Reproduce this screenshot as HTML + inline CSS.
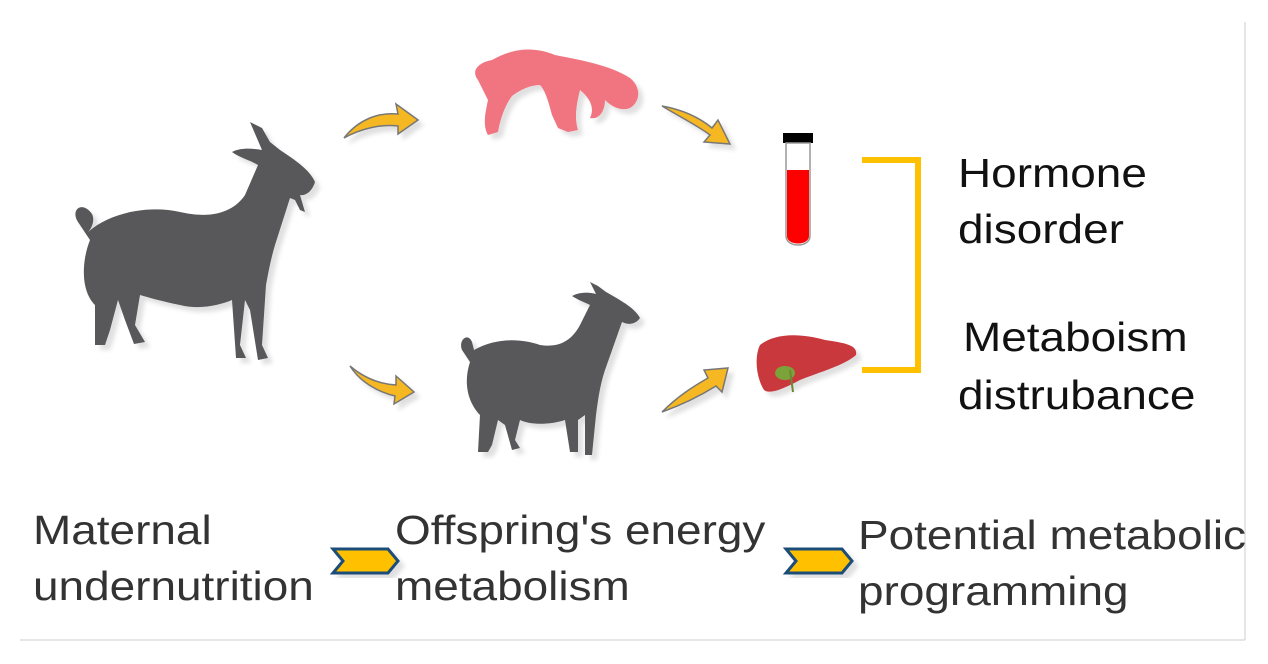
<!DOCTYPE html>
<html><head><meta charset="utf-8"><style>
html,body{margin:0;padding:0;background:#fff;}
body{width:1268px;height:664px;overflow:hidden;position:relative;font-family:"Liberation Sans",sans-serif;}
.t{position:absolute;font-size:41px;line-height:50px;white-space:nowrap;transform:scaleX(1.12);transform-origin:0 0;}
</style></head><body>
<svg width="1268" height="664" style="position:absolute;left:0;top:0">
<defs>
<filter id="sh" x="-10%" y="-10%" width="130%" height="130%"><feDropShadow dx="5" dy="5" stdDeviation="2" flood-color="#000" flood-opacity="0.12"/></filter>
</defs>
<line x1="1245" y1="22" x2="1245" y2="640" stroke="#ccc" stroke-width="1"/>
<line x1="20" y1="640" x2="1245" y2="640" stroke="#ccc" stroke-width="1"/>

<g fill="#58585a" filter="url(#sh)">
<path d="M78,222 C70,210 82,200 92,214 C95,220 92,228 88,232 C110,212 150,205 180,212 C215,220 235,210 245,195 L258,165 C250,160 240,158 232,152 C240,148 250,148 262,150 L250,122 L262,128 L270,142 L280,150 C295,160 310,170 315,182 C312,192 305,196 300,195 L305,212 L300,210 L295,200 L290,198 L275,245 C270,262 268,275 266,285 L262,345 L268,358 L258,360 L250,310 L245,300 L240,345 L246,358 L236,358 L232,300 C220,305 200,310 180,305 C165,302 150,298 140,295 L135,325 L145,342 L134,344 L125,320 L118,300 L110,330 L105,345 L95,345 L95,305 C80,290 82,260 90,240 Z"/>
</g>
<g fill="#58585a" filter="url(#sh)">
<path d="M462,350 C458,340 468,332 472,342 L474,350 C495,338 520,338 540,345 C560,348 572,340 580,325 L590,305 C584,302 578,300 572,296 C580,292 588,292 596,294 L590,282 L598,286 L606,292 C620,300 635,308 640,318 C635,325 628,325 622,322 L605,370 C600,385 598,400 596,415 L592,455 L585,455 L585,415 L578,420 L578,452 L570,452 L565,420 C550,425 530,425 520,420 L515,440 L520,448 L512,450 L505,425 L498,420 L492,445 L488,452 L478,452 L480,415 C466,400 464,380 470,362 Z"/>
</g>
<path d="M478,80 C470,70 480,62 492,60 C510,50 530,45 555,55 C580,60 610,65 630,78 C642,88 640,102 630,108 C620,112 610,105 605,100 C605,110 600,120 590,118 C595,108 590,98 580,90 C575,110 575,120 578,130 L568,132 L558,128 L552,115 C548,100 545,90 540,85 C530,85 520,90 512,96 C505,105 500,120 498,132 L488,135 C482,125 486,110 488,100 Z" fill="#F07480" filter="url(#sh)"/>
<g stroke="#777" stroke-width="1.5" fill="#F5B820" filter="url(#sh)">
<path d="M344,138 C358,120 378,112 398,114 L396,104 L418,120 L398,134 L398,126 C382,124 362,128 344,138 Z"/>
<path d="M662,106 C684,110 700,118 712,128 L718,120 L730,144 L704,142 L710,135 C698,126 682,118 662,106 Z"/>
<path d="M350,366 C364,378 380,384 396,385 L396,376 L414,392 L394,404 L395,396 C378,392 360,382 350,366 Z"/>
<path d="M662,412 C678,396 694,386 708,378 L704,370 L728,368 L722,392 L716,386 C700,396 684,404 662,412 Z"/>
</g>
<rect x="783" y="133" width="30" height="10" fill="#000"/>
<path d="M786,143 L810,143 L810,236 C810,248 786,248 786,236 Z" fill="#fff" stroke="#999" stroke-width="1.5"/>
<path d="M787,170 L809,170 L809,236 C809,246 787,246 787,236 Z" fill="#f00"/>
<path d="M760,345 C775,333 800,333 825,340 C845,343 858,345 856,355 C845,365 820,372 800,380 C785,388 770,395 764,390 C755,375 755,355 760,345 Z" fill="#C8383C" filter="url(#sh)"/>
<ellipse cx="785" cy="373" rx="10" ry="7" fill="#7BA33A"/>
<line x1="790" y1="370" x2="793" y2="392" stroke="#6A8A30" stroke-width="2"/>
<path d="M862,160 L918,160 L918,370 L862,370" fill="none" stroke="#FFC000" stroke-width="6"/>
<g fill="#FFC000" stroke="#1F4E79" stroke-width="3" filter="url(#sh)">
<path d="M333,549 L388,549 L398,561 L388,573 L333,573 L343,561 Z"/>
<path d="M786,549 L842,549 L852,561 L842,573 L786,573 L796,561 Z"/>
</g>
</svg>
<div class="t" style="left:958px;top:148px;color:#111">Hormone</div>
<div class="t" style="left:958px;top:204px;color:#111">disorder</div>
<div class="t" style="left:963px;top:312px;color:#111">Metaboism</div>
<div class="t" style="left:958px;top:370px;color:#111">distrubance</div>
<div class="t" style="left:33px;top:505px;color:#333">Maternal</div>
<div class="t" style="left:33px;top:561px;color:#333">undernutrition</div>
<div class="t" style="left:395px;top:505px;color:#333">Offspring's energy</div>
<div class="t" style="left:395px;top:561px;color:#333">metabolism</div>
<div class="t" style="left:858px;top:510px;color:#333">Potential metabolic</div>
<div class="t" style="left:858px;top:566px;color:#333">programming</div>
</body></html>
